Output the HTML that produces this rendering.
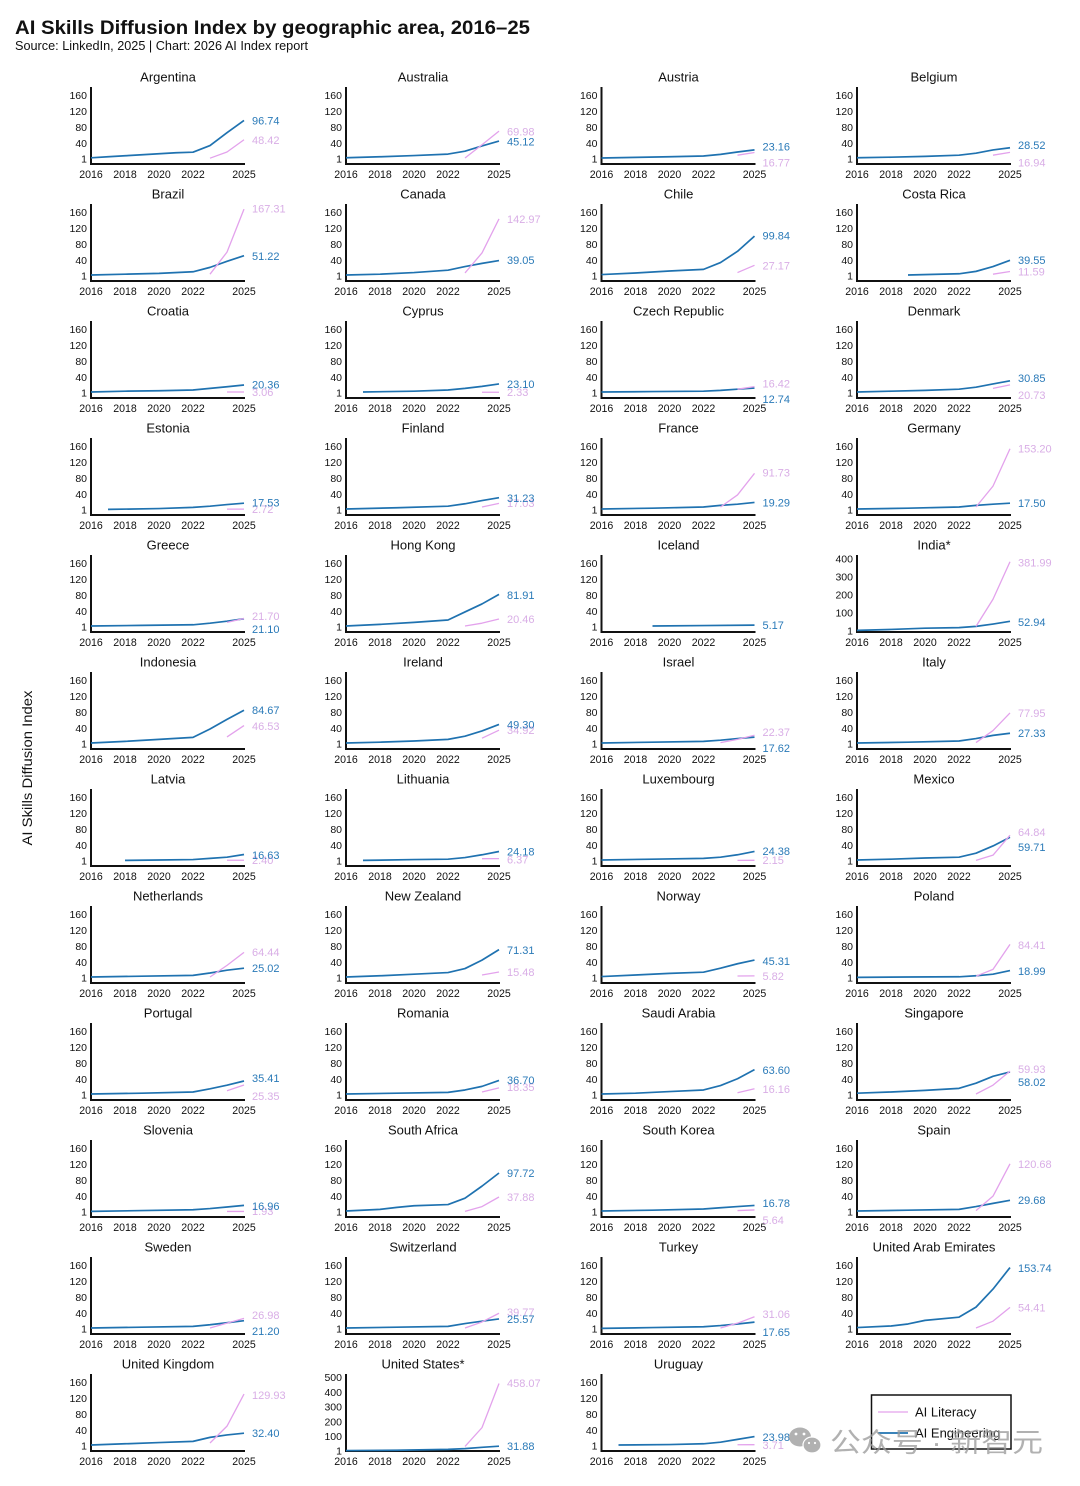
<!DOCTYPE html>
<html><head><meta charset="utf-8"><style>
html,body{margin:0;padding:0;background:#fff}
svg{display:block}
svg text{font-family:"Liberation Sans",sans-serif;fill:#111}
.t{font-size:13px;text-anchor:middle}
.yt{font-size:10.5px;text-anchor:end}
.xt{font-size:10.6px;text-anchor:middle}
.ax{fill:none;stroke:#111;stroke-width:2}
.b{fill:none;stroke:#1f72b0;stroke-width:1.7;vector-effect:non-scaling-stroke;stroke-linejoin:round}
.k{fill:none;stroke:#e3a2ec;stroke-width:1.3;vector-effect:non-scaling-stroke;stroke-linejoin:round}
svg text.vb{font-size:11px;fill:#2a7ab8}
svg text.vp{font-size:11px;fill:#d9aee6}
</style></head><body>
<svg width="1080" height="1486" viewBox="0 0 1080 1486" xmlns="http://www.w3.org/2000/svg">
<rect width="1080" height="1486" fill="#fff"/>
<text x="15" y="34" font-size="19.5" font-weight="bold" textLength="515" lengthAdjust="spacingAndGlyphs">AI Skills Diffusion Index by geographic area, 2016–25</text>
<text x="15" y="50" font-size="12.5" textLength="293" lengthAdjust="spacingAndGlyphs">Source: LinkedIn, 2025 | Chart: 2026 AI Index report</text>
<text transform="translate(32,768) rotate(-90)" font-size="13.5" text-anchor="middle" textLength="155" lengthAdjust="spacingAndGlyphs">AI Skills Diffusion Index</text>

<!-- Row 0 -->
<g transform="translate(91,77)"><text class="t" x="77" y="4.7">Argentina</text><path class="ax" d="M0,10V87H154"/><text class="yt"><tspan x="-4" y="21.8">160</tspan><tspan x="-4" y="37.9">120</tspan><tspan x="-4" y="53.9">80</tspan><tspan x="-4" y="70">40</tspan><tspan x="-4" y="85.6">1</tspan></text><text class="xt" y="101.2"><tspan x="0">2016</tspan><tspan x="34">2018</tspan><tspan x="68">2020</tspan><tspan x="102">2022</tspan><tspan x="153">2025</tspan></text><g transform="translate(0,82.19) scale(17,-0.401)"><polyline class="b" points="0,3.5 1,6 2,8.5 3,11 4,13.5 5,16 6,17.5 7,34 8,66 9,96.74"/><polyline class="k" points="7,2.5 8,18 9,48.42"/></g><text class="vp" x="161" y="67">48.42</text><text class="vb" x="161" y="47.7">96.74</text></g>

<g transform="translate(346,77)"><text class="t" x="77" y="4.7">Australia</text><path class="ax" d="M0,10V87H154"/><text class="yt"><tspan x="-4" y="21.8">160</tspan><tspan x="-4" y="37.9">120</tspan><tspan x="-4" y="53.9">80</tspan><tspan x="-4" y="70">40</tspan><tspan x="-4" y="85.6">1</tspan></text><text class="xt" y="101.2"><tspan x="0">2016</tspan><tspan x="34">2018</tspan><tspan x="68">2020</tspan><tspan x="102">2022</tspan><tspan x="153">2025</tspan></text><g transform="translate(0,82.19) scale(17,-0.401)"><polyline class="b" points="0,3.5 2,6 4,9 6,12.7 7,20 8,33 9,45.12"/><polyline class="k" points="7,3 8,36 9,69.98"/></g><text class="vp" x="161" y="58.5">69.98</text><text class="vb" x="161" y="68.5">45.12</text></g>

<g transform="translate(601.5,77)"><text class="t" x="77" y="4.7">Austria</text><path class="ax" d="M0,10V87H154"/><text class="yt"><tspan x="-4" y="21.8">160</tspan><tspan x="-4" y="37.9">120</tspan><tspan x="-4" y="53.9">80</tspan><tspan x="-4" y="70">40</tspan><tspan x="-4" y="85.6">1</tspan></text><text class="xt" y="101.2"><tspan x="0">2016</tspan><tspan x="34">2018</tspan><tspan x="68">2020</tspan><tspan x="102">2022</tspan><tspan x="153">2025</tspan></text><g transform="translate(0,82.19) scale(17,-0.401)"><polyline class="b" points="0,3 2,4.5 4,6 6,8 7,12 8,18 9,23.16"/><polyline class="k" points="8,10 9,16.77"/></g><text class="vp" x="161" y="89.5">16.77</text><text class="vb" x="161" y="73.7">23.16</text></g>

<g transform="translate(857,77)"><text class="t" x="77" y="4.7">Belgium</text><path class="ax" d="M0,10V87H154"/><text class="yt"><tspan x="-4" y="21.8">160</tspan><tspan x="-4" y="37.9">120</tspan><tspan x="-4" y="53.9">80</tspan><tspan x="-4" y="70">40</tspan><tspan x="-4" y="85.6">1</tspan></text><text class="xt" y="101.2"><tspan x="0">2016</tspan><tspan x="34">2018</tspan><tspan x="68">2020</tspan><tspan x="102">2022</tspan><tspan x="153">2025</tspan></text><g transform="translate(0,82.19) scale(17,-0.401)"><polyline class="b" points="0,3.5 2,5 4,7 6,10 7,15 8,23 9,28.52"/><polyline class="k" points="8,10 9,16.94"/></g><text class="vp" x="161" y="89.7">16.94</text><text class="vb" x="161" y="72">28.52</text></g>

<!-- Row 1 -->
<g transform="translate(91,194)"><text class="t" x="77" y="4.7">Brazil</text><path class="ax" d="M0,10V87H154"/><text class="yt"><tspan x="-4" y="21.8">160</tspan><tspan x="-4" y="37.9">120</tspan><tspan x="-4" y="53.9">80</tspan><tspan x="-4" y="70">40</tspan><tspan x="-4" y="85.6">1</tspan></text><text class="xt" y="101.2"><tspan x="0">2016</tspan><tspan x="34">2018</tspan><tspan x="68">2020</tspan><tspan x="102">2022</tspan><tspan x="153">2025</tspan></text><g transform="translate(0,82.19) scale(17,-0.401)"><polyline class="b" points="0,3 2,5 4,7 6,11 7,22 8,37 9,51.22"/><polyline class="k" points="7,5 8,60 9,167.31"/></g><text class="vp" x="161" y="18.5">167.31</text><text class="vb" x="161" y="66">51.22</text></g>

<g transform="translate(346,194)"><text class="t" x="77" y="4.7">Canada</text><path class="ax" d="M0,10V87H154"/><text class="yt"><tspan x="-4" y="21.8">160</tspan><tspan x="-4" y="37.9">120</tspan><tspan x="-4" y="53.9">80</tspan><tspan x="-4" y="70">40</tspan><tspan x="-4" y="85.6">1</tspan></text><text class="xt" y="101.2"><tspan x="0">2016</tspan><tspan x="34">2018</tspan><tspan x="68">2020</tspan><tspan x="102">2022</tspan><tspan x="153">2025</tspan></text><g transform="translate(0,82.19) scale(17,-0.401)"><polyline class="b" points="0,3 2,5 4,9 6,15 7,24 8,32 9,39.05"/><polyline class="k" points="7,8 8,58 9,142.97"/></g><text class="vp" x="161" y="29">142.97</text><text class="vb" x="161" y="70">39.05</text></g>

<g transform="translate(601.5,194)"><text class="t" x="77" y="4.7">Chile</text><path class="ax" d="M0,10V87H154"/><text class="yt"><tspan x="-4" y="21.8">160</tspan><tspan x="-4" y="37.9">120</tspan><tspan x="-4" y="53.9">80</tspan><tspan x="-4" y="70">40</tspan><tspan x="-4" y="85.6">1</tspan></text><text class="xt" y="101.2"><tspan x="0">2016</tspan><tspan x="34">2018</tspan><tspan x="68">2020</tspan><tspan x="102">2022</tspan><tspan x="153">2025</tspan></text><g transform="translate(0,82.19) scale(17,-0.401)"><polyline class="b" points="0,4 2,8 4,13 6,17 7,34 8,62 9,99.84"/><polyline class="k" points="8,9 9,27.17"/></g><text class="vp" x="161" y="75.7">27.17</text><text class="vb" x="161" y="45.7">99.84</text></g>

<g transform="translate(857,194)"><text class="t" x="77" y="4.7">Costa Rica</text><path class="ax" d="M0,10V87H154"/><text class="yt"><tspan x="-4" y="21.8">160</tspan><tspan x="-4" y="37.9">120</tspan><tspan x="-4" y="53.9">80</tspan><tspan x="-4" y="70">40</tspan><tspan x="-4" y="85.6">1</tspan></text><text class="xt" y="101.2"><tspan x="0">2016</tspan><tspan x="34">2018</tspan><tspan x="68">2020</tspan><tspan x="102">2022</tspan><tspan x="153">2025</tspan></text><g transform="translate(0,82.19) scale(17,-0.401)"><polyline class="b" points="3,3 6,6 7,12 8,24 9,39.55"/><polyline class="k" points="8,5 9,11.59"/></g><text class="vp" x="161" y="81.7">11.59</text><text class="vb" x="161" y="70">39.55</text></g>

<!-- Row 2 -->
<g transform="translate(91,311)"><text class="t" x="77" y="4.7">Croatia</text><path class="ax" d="M0,10V87H154"/><text class="yt"><tspan x="-4" y="21.8">160</tspan><tspan x="-4" y="37.9">120</tspan><tspan x="-4" y="53.9">80</tspan><tspan x="-4" y="70">40</tspan><tspan x="-4" y="85.6">1</tspan></text><text class="xt" y="101.2"><tspan x="0">2016</tspan><tspan x="34">2018</tspan><tspan x="68">2020</tspan><tspan x="102">2022</tspan><tspan x="153">2025</tspan></text><g transform="translate(0,82.19) scale(17,-0.401)"><polyline class="b" points="0,3 2,5 4,6 6,8 7,12 8,16 9,20.36"/><polyline class="k" points="8,3 9,3.06"/></g><text class="vp" x="161" y="85">3.06</text><text class="vb" x="161" y="77.5">20.36</text></g>

<g transform="translate(346,311)"><text class="t" x="77" y="4.7">Cyprus</text><path class="ax" d="M0,10V87H154"/><text class="yt"><tspan x="-4" y="21.8">160</tspan><tspan x="-4" y="37.9">120</tspan><tspan x="-4" y="53.9">80</tspan><tspan x="-4" y="70">40</tspan><tspan x="-4" y="85.6">1</tspan></text><text class="xt" y="101.2"><tspan x="0">2016</tspan><tspan x="34">2018</tspan><tspan x="68">2020</tspan><tspan x="102">2022</tspan><tspan x="153">2025</tspan></text><g transform="translate(0,82.19) scale(17,-0.401)"><polyline class="b" points="1,3 4,5 6,8 7,12 8,17 9,23.10"/><polyline class="k" points="8,2.3 9,2.33"/></g><text class="vp" x="161" y="85">2.33</text><text class="vb" x="161" y="77">23.10</text></g>

<g transform="translate(601.5,311)"><text class="t" x="77" y="4.7">Czech Republic</text><path class="ax" d="M0,10V87H154"/><text class="yt"><tspan x="-4" y="21.8">160</tspan><tspan x="-4" y="37.9">120</tspan><tspan x="-4" y="53.9">80</tspan><tspan x="-4" y="70">40</tspan><tspan x="-4" y="85.6">1</tspan></text><text class="xt" y="101.2"><tspan x="0">2016</tspan><tspan x="34">2018</tspan><tspan x="68">2020</tspan><tspan x="102">2022</tspan><tspan x="153">2025</tspan></text><g transform="translate(0,82.19) scale(17,-0.401)"><polyline class="b" points="0,3 3,4 6,5 7,7 8,10 9,12.74"/><polyline class="k" points="8,10 9,16.42"/></g><text class="vp" x="161" y="76.7">16.42</text><text class="vb" x="161" y="92">12.74</text></g>

<g transform="translate(857,311)"><text class="t" x="77" y="4.7">Denmark</text><path class="ax" d="M0,10V87H154"/><text class="yt"><tspan x="-4" y="21.8">160</tspan><tspan x="-4" y="37.9">120</tspan><tspan x="-4" y="53.9">80</tspan><tspan x="-4" y="70">40</tspan><tspan x="-4" y="85.6">1</tspan></text><text class="xt" y="101.2"><tspan x="0">2016</tspan><tspan x="34">2018</tspan><tspan x="68">2020</tspan><tspan x="102">2022</tspan><tspan x="153">2025</tspan></text><g transform="translate(0,82.19) scale(17,-0.401)"><polyline class="b" points="0,3 2,5 4,7 6,10 7,15 8,23 9,30.85"/><polyline class="k" points="8,12 9,20.73"/></g><text class="vp" x="161" y="88">20.73</text><text class="vb" x="161" y="71">30.85</text></g>

<!-- Row 3 -->
<g transform="translate(91,428)"><text class="t" x="77" y="4.7">Estonia</text><path class="ax" d="M0,10V87H154"/><text class="yt"><tspan x="-4" y="21.8">160</tspan><tspan x="-4" y="37.9">120</tspan><tspan x="-4" y="53.9">80</tspan><tspan x="-4" y="70">40</tspan><tspan x="-4" y="85.6">1</tspan></text><text class="xt" y="101.2"><tspan x="0">2016</tspan><tspan x="34">2018</tspan><tspan x="68">2020</tspan><tspan x="102">2022</tspan><tspan x="153">2025</tspan></text><g transform="translate(0,82.19) scale(17,-0.401)"><polyline class="b" points="1,2 4,4 6,7 7,10 8,14 9,17.53"/><polyline class="k" points="8,2.7 9,2.72"/></g><text class="vp" x="161" y="85">2.72</text><text class="vb" x="161" y="78.7">17.53</text></g>

<g transform="translate(346,428)"><text class="t" x="77" y="4.7">Finland</text><path class="ax" d="M0,10V87H154"/><text class="yt"><tspan x="-4" y="21.8">160</tspan><tspan x="-4" y="37.9">120</tspan><tspan x="-4" y="53.9">80</tspan><tspan x="-4" y="70">40</tspan><tspan x="-4" y="85.6">1</tspan></text><text class="xt" y="101.2"><tspan x="0">2016</tspan><tspan x="34">2018</tspan><tspan x="68">2020</tspan><tspan x="102">2022</tspan><tspan x="153">2025</tspan></text><g transform="translate(0,82.19) scale(17,-0.401)"><polyline class="b" points="0,3 3,6 6,10 7,16 8,24 9,31.23"/><polyline class="k" points="8,8 9,17.03"/></g><text class="vp" x="161" y="79">17.03</text><text class="vb" x="161" y="74">31.23</text></g>

<g transform="translate(601.5,428)"><text class="t" x="77" y="4.7">France</text><path class="ax" d="M0,10V87H154"/><text class="yt"><tspan x="-4" y="21.8">160</tspan><tspan x="-4" y="37.9">120</tspan><tspan x="-4" y="53.9">80</tspan><tspan x="-4" y="70">40</tspan><tspan x="-4" y="85.6">1</tspan></text><text class="xt" y="101.2"><tspan x="0">2016</tspan><tspan x="34">2018</tspan><tspan x="68">2020</tspan><tspan x="102">2022</tspan><tspan x="153">2025</tspan></text><g transform="translate(0,82.19) scale(17,-0.401)"><polyline class="b" points="0,3 3,5 6,8 7,12 8,15 9,19.29"/><polyline class="k" points="7,8 8,38 9,91.73"/></g><text class="vp" x="161" y="48.7">91.73</text><text class="vb" x="161" y="78.3">19.29</text></g>

<g transform="translate(857,428)"><text class="t" x="77" y="4.7">Germany</text><path class="ax" d="M0,10V87H154"/><text class="yt"><tspan x="-4" y="21.8">160</tspan><tspan x="-4" y="37.9">120</tspan><tspan x="-4" y="53.9">80</tspan><tspan x="-4" y="70">40</tspan><tspan x="-4" y="85.6">1</tspan></text><text class="xt" y="101.2"><tspan x="0">2016</tspan><tspan x="34">2018</tspan><tspan x="68">2020</tspan><tspan x="102">2022</tspan><tspan x="153">2025</tspan></text><g transform="translate(0,82.19) scale(17,-0.401)"><polyline class="b" points="0,3 3,5 6,8 7,12 8,15 9,17.50"/><polyline class="k" points="7,8 8,60 9,153.20"/></g><text class="vp" x="161" y="24.7">153.20</text><text class="vb" x="161" y="79">17.50</text></g>

<!-- Row 4 -->
<g transform="translate(91,545)"><text class="t" x="77" y="4.7">Greece</text><path class="ax" d="M0,10V87H154"/><text class="yt"><tspan x="-4" y="21.8">160</tspan><tspan x="-4" y="37.9">120</tspan><tspan x="-4" y="53.9">80</tspan><tspan x="-4" y="70">40</tspan><tspan x="-4" y="85.6">1</tspan></text><text class="xt" y="101.2"><tspan x="0">2016</tspan><tspan x="34">2018</tspan><tspan x="68">2020</tspan><tspan x="102">2022</tspan><tspan x="153">2025</tspan></text><g transform="translate(0,82.19) scale(17,-0.401)"><polyline class="b" points="0,3 3,4.5 6,6 7,10 8,15 9,21.10"/><polyline class="k" points="8,12 9,21.70"/></g><text class="vp" x="161" y="75">21.70</text><text class="vb" x="161" y="88">21.10</text></g>

<g transform="translate(346,545)"><text class="t" x="77" y="4.7">Hong Kong</text><path class="ax" d="M0,10V87H154"/><text class="yt"><tspan x="-4" y="21.8">160</tspan><tspan x="-4" y="37.9">120</tspan><tspan x="-4" y="53.9">80</tspan><tspan x="-4" y="70">40</tspan><tspan x="-4" y="85.6">1</tspan></text><text class="xt" y="101.2"><tspan x="0">2016</tspan><tspan x="34">2018</tspan><tspan x="68">2020</tspan><tspan x="102">2022</tspan><tspan x="153">2025</tspan></text><g transform="translate(0,82.19) scale(17,-0.401)"><polyline class="b" points="0,3 2,7 4,12 6,18 7,38 8,58 9,81.91"/><polyline class="k" points="7,3 8,10 9,20.46"/></g><text class="vp" x="161" y="78">20.46</text><text class="vb" x="161" y="54">81.91</text></g>

<g transform="translate(601.5,545)"><text class="t" x="77" y="4.7">Iceland</text><path class="ax" d="M0,10V87H154"/><text class="yt"><tspan x="-4" y="21.8">160</tspan><tspan x="-4" y="37.9">120</tspan><tspan x="-4" y="53.9">80</tspan><tspan x="-4" y="70">40</tspan><tspan x="-4" y="85.6">1</tspan></text><text class="xt" y="101.2"><tspan x="0">2016</tspan><tspan x="34">2018</tspan><tspan x="68">2020</tspan><tspan x="102">2022</tspan><tspan x="153">2025</tspan></text><g transform="translate(0,82.19) scale(17,-0.401)"><polyline class="b" points="3,3 6,4 9,5.17"/></g><text class="vb" x="161" y="84">5.17</text></g>

<g transform="translate(857,545)"><text class="t" x="77" y="4.7">India*</text><path class="ax" d="M0,10V87H154"/><text class="yt"><tspan x="-4" y="17.3">400</tspan><tspan x="-4" y="35.4">300</tspan><tspan x="-4" y="53.5">200</tspan><tspan x="-4" y="71.6">100</tspan><tspan x="-4" y="89.5">1</tspan></text><text class="xt" y="101.2"><tspan x="0">2016</tspan><tspan x="34">2018</tspan><tspan x="68">2020</tspan><tspan x="102">2022</tspan><tspan x="153">2025</tspan></text><g transform="translate(0,85.91) scale(17,-0.181)"><polyline class="b" points="0,3 2,8 4,15 6,18 7,25 8,38 9,52.94"/><polyline class="k" points="7,25 8,175 9,381.99"/></g><text class="vp" x="161" y="21.7">381.99</text><text class="vb" x="161" y="81">52.94</text></g>

<!-- Row 5 -->
<g transform="translate(91,662)"><text class="t" x="77" y="4.7">Indonesia</text><path class="ax" d="M0,10V87H154"/><text class="yt"><tspan x="-4" y="21.8">160</tspan><tspan x="-4" y="37.9">120</tspan><tspan x="-4" y="53.9">80</tspan><tspan x="-4" y="70">40</tspan><tspan x="-4" y="85.6">1</tspan></text><text class="xt" y="101.2"><tspan x="0">2016</tspan><tspan x="34">2018</tspan><tspan x="68">2020</tspan><tspan x="102">2022</tspan><tspan x="153">2025</tspan></text><g transform="translate(0,82.19) scale(17,-0.401)"><polyline class="b" points="0,3 2,7 4,12 6,17 7,38 8,62 9,84.67"/><polyline class="k" points="8,18 9,46.53"/></g><text class="vp" x="161" y="68">46.53</text><text class="vb" x="161" y="52">84.67</text></g>

<g transform="translate(346,662)"><text class="t" x="77" y="4.7">Ireland</text><path class="ax" d="M0,10V87H154"/><text class="yt"><tspan x="-4" y="21.8">160</tspan><tspan x="-4" y="37.9">120</tspan><tspan x="-4" y="53.9">80</tspan><tspan x="-4" y="70">40</tspan><tspan x="-4" y="85.6">1</tspan></text><text class="xt" y="101.2"><tspan x="0">2016</tspan><tspan x="34">2018</tspan><tspan x="68">2020</tspan><tspan x="102">2022</tspan><tspan x="153">2025</tspan></text><g transform="translate(0,82.19) scale(17,-0.401)"><polyline class="b" points="0,3 2,5 4,8 6,12 7,20 8,33 9,49.30"/><polyline class="k" points="8,15 9,34.92"/></g><text class="vp" x="161" y="72">34.92</text><text class="vb" x="161" y="66.7">49.30</text></g>

<g transform="translate(601.5,662)"><text class="t" x="77" y="4.7">Israel</text><path class="ax" d="M0,10V87H154"/><text class="yt"><tspan x="-4" y="21.8">160</tspan><tspan x="-4" y="37.9">120</tspan><tspan x="-4" y="53.9">80</tspan><tspan x="-4" y="70">40</tspan><tspan x="-4" y="85.6">1</tspan></text><text class="xt" y="101.2"><tspan x="0">2016</tspan><tspan x="34">2018</tspan><tspan x="68">2020</tspan><tspan x="102">2022</tspan><tspan x="153">2025</tspan></text><g transform="translate(0,82.19) scale(17,-0.401)"><polyline class="b" points="0,3 3,5 6,7 7,10 8,14 9,17.62"/><polyline class="k" points="7,4 8,12 9,22.37"/></g><text class="vp" x="161" y="74">22.37</text><text class="vb" x="161" y="90">17.62</text></g>

<g transform="translate(857,662)"><text class="t" x="77" y="4.7">Italy</text><path class="ax" d="M0,10V87H154"/><text class="yt"><tspan x="-4" y="21.8">160</tspan><tspan x="-4" y="37.9">120</tspan><tspan x="-4" y="53.9">80</tspan><tspan x="-4" y="70">40</tspan><tspan x="-4" y="85.6">1</tspan></text><text class="xt" y="101.2"><tspan x="0">2016</tspan><tspan x="34">2018</tspan><tspan x="68">2020</tspan><tspan x="102">2022</tspan><tspan x="153">2025</tspan></text><g transform="translate(0,82.19) scale(17,-0.401)"><polyline class="b" points="0,3 3,5 6,8 7,14 8,22 9,27.33"/><polyline class="k" points="7,4 8,34 9,77.95"/></g><text class="vp" x="161" y="55">77.95</text><text class="vb" x="161" y="75">27.33</text></g>

<!-- Row 6 -->
<g transform="translate(91,779)"><text class="t" x="77" y="4.7">Latvia</text><path class="ax" d="M0,10V87H154"/><text class="yt"><tspan x="-4" y="21.8">160</tspan><tspan x="-4" y="37.9">120</tspan><tspan x="-4" y="53.9">80</tspan><tspan x="-4" y="70">40</tspan><tspan x="-4" y="85.6">1</tspan></text><text class="xt" y="101.2"><tspan x="0">2016</tspan><tspan x="34">2018</tspan><tspan x="68">2020</tspan><tspan x="102">2022</tspan><tspan x="153">2025</tspan></text><g transform="translate(0,82.19) scale(17,-0.401)"><polyline class="b" points="2,2 4,3 6,4 7,7 8,10 9,16.63"/><polyline class="k" points="8,2.4 9,2.40"/></g><text class="vp" x="161" y="85">2.40</text><text class="vb" x="161" y="80">16.63</text></g>

<g transform="translate(346,779)"><text class="t" x="77" y="4.7">Lithuania</text><path class="ax" d="M0,10V87H154"/><text class="yt"><tspan x="-4" y="21.8">160</tspan><tspan x="-4" y="37.9">120</tspan><tspan x="-4" y="53.9">80</tspan><tspan x="-4" y="70">40</tspan><tspan x="-4" y="85.6">1</tspan></text><text class="xt" y="101.2"><tspan x="0">2016</tspan><tspan x="34">2018</tspan><tspan x="68">2020</tspan><tspan x="102">2022</tspan><tspan x="153">2025</tspan></text><g transform="translate(0,82.19) scale(17,-0.401)"><polyline class="b" points="1,2 4,4 6,5 7,9 8,16 9,24.18"/><polyline class="k" points="8,6.3 9,6.37"/></g><text class="vp" x="161" y="84.7">6.37</text><text class="vb" x="161" y="76.7">24.18</text></g>

<g transform="translate(601.5,779)"><text class="t" x="77" y="4.7">Luxembourg</text><path class="ax" d="M0,10V87H154"/><text class="yt"><tspan x="-4" y="21.8">160</tspan><tspan x="-4" y="37.9">120</tspan><tspan x="-4" y="53.9">80</tspan><tspan x="-4" y="70">40</tspan><tspan x="-4" y="85.6">1</tspan></text><text class="xt" y="101.2"><tspan x="0">2016</tspan><tspan x="34">2018</tspan><tspan x="68">2020</tspan><tspan x="102">2022</tspan><tspan x="153">2025</tspan></text><g transform="translate(0,82.19) scale(17,-0.401)"><polyline class="b" points="0,3 3,5 6,7 7,10 8,16 9,24.38"/><polyline class="k" points="8,2.1 9,2.15"/></g><text class="vp" x="161" y="85">2.15</text><text class="vb" x="161" y="76">24.38</text></g>

<g transform="translate(857,779)"><text class="t" x="77" y="4.7">Mexico</text><path class="ax" d="M0,10V87H154"/><text class="yt"><tspan x="-4" y="21.8">160</tspan><tspan x="-4" y="37.9">120</tspan><tspan x="-4" y="53.9">80</tspan><tspan x="-4" y="70">40</tspan><tspan x="-4" y="85.6">1</tspan></text><text class="xt" y="101.2"><tspan x="0">2016</tspan><tspan x="34">2018</tspan><tspan x="68">2020</tspan><tspan x="102">2022</tspan><tspan x="153">2025</tspan></text><g transform="translate(0,82.19) scale(17,-0.401)"><polyline class="b" points="0,3 2,5 4,8 6,10 7,20 8,38 9,59.71"/><polyline class="k" points="7,2 8,15 9,64.84"/></g><text class="vp" x="161" y="57">64.84</text><text class="vb" x="161" y="72">59.71</text></g>

<!-- Row 7 -->
<g transform="translate(91,896)"><text class="t" x="77" y="4.7">Netherlands</text><path class="ax" d="M0,10V87H154"/><text class="yt"><tspan x="-4" y="21.8">160</tspan><tspan x="-4" y="37.9">120</tspan><tspan x="-4" y="53.9">80</tspan><tspan x="-4" y="70">40</tspan><tspan x="-4" y="85.6">1</tspan></text><text class="xt" y="101.2"><tspan x="0">2016</tspan><tspan x="34">2018</tspan><tspan x="68">2020</tspan><tspan x="102">2022</tspan><tspan x="153">2025</tspan></text><g transform="translate(0,82.19) scale(17,-0.401)"><polyline class="b" points="0,3 3,5 6,7 7,13 8,20 9,25.02"/><polyline class="k" points="7,3 8,32 9,64.44"/></g><text class="vp" x="161" y="60">64.44</text><text class="vb" x="161" y="76">25.02</text></g>

<g transform="translate(346,896)"><text class="t" x="77" y="4.7">New Zealand</text><path class="ax" d="M0,10V87H154"/><text class="yt"><tspan x="-4" y="21.8">160</tspan><tspan x="-4" y="37.9">120</tspan><tspan x="-4" y="53.9">80</tspan><tspan x="-4" y="70">40</tspan><tspan x="-4" y="85.6">1</tspan></text><text class="xt" y="101.2"><tspan x="0">2016</tspan><tspan x="34">2018</tspan><tspan x="68">2020</tspan><tspan x="102">2022</tspan><tspan x="153">2025</tspan></text><g transform="translate(0,82.19) scale(17,-0.401)"><polyline class="b" points="0,3 2,6 4,10 6,14 7,24 8,45 9,71.31"/><polyline class="k" points="8,8 9,15.48"/></g><text class="vp" x="161" y="80">15.48</text><text class="vb" x="161" y="58">71.31</text></g>

<g transform="translate(601.5,896)"><text class="t" x="77" y="4.7">Norway</text><path class="ax" d="M0,10V87H154"/><text class="yt"><tspan x="-4" y="21.8">160</tspan><tspan x="-4" y="37.9">120</tspan><tspan x="-4" y="53.9">80</tspan><tspan x="-4" y="70">40</tspan><tspan x="-4" y="85.6">1</tspan></text><text class="xt" y="101.2"><tspan x="0">2016</tspan><tspan x="34">2018</tspan><tspan x="68">2020</tspan><tspan x="102">2022</tspan><tspan x="153">2025</tspan></text><g transform="translate(0,82.19) scale(17,-0.401)"><polyline class="b" points="0,4 2,8 4,12 6,15 7,25 8,36 9,45.31"/><polyline class="k" points="8,5.5 9,5.82"/></g><text class="vp" x="161" y="84">5.82</text><text class="vb" x="161" y="69">45.31</text></g>

<g transform="translate(857,896)"><text class="t" x="77" y="4.7">Poland</text><path class="ax" d="M0,10V87H154"/><text class="yt"><tspan x="-4" y="21.8">160</tspan><tspan x="-4" y="37.9">120</tspan><tspan x="-4" y="53.9">80</tspan><tspan x="-4" y="70">40</tspan><tspan x="-4" y="85.6">1</tspan></text><text class="xt" y="101.2"><tspan x="0">2016</tspan><tspan x="34">2018</tspan><tspan x="68">2020</tspan><tspan x="102">2022</tspan><tspan x="153">2025</tspan></text><g transform="translate(0,82.19) scale(17,-0.401)"><polyline class="b" points="0,2 3,3 6,3.5 7,6 8,10 9,18.99"/><polyline class="k" points="7,5 8,22 9,84.41"/></g><text class="vp" x="161" y="53">84.41</text><text class="vb" x="161" y="79">18.99</text></g>

<!-- Row 8 -->
<g transform="translate(91,1013)"><text class="t" x="77" y="4.7">Portugal</text><path class="ax" d="M0,10V87H154"/><text class="yt"><tspan x="-4" y="21.8">160</tspan><tspan x="-4" y="37.9">120</tspan><tspan x="-4" y="53.9">80</tspan><tspan x="-4" y="70">40</tspan><tspan x="-4" y="85.6">1</tspan></text><text class="xt" y="101.2"><tspan x="0">2016</tspan><tspan x="34">2018</tspan><tspan x="68">2020</tspan><tspan x="102">2022</tspan><tspan x="153">2025</tspan></text><g transform="translate(0,82.19) scale(17,-0.401)"><polyline class="b" points="0,3 3,5 6,8 7,16 8,25 9,35.41"/><polyline class="k" points="8,11 9,25.35"/></g><text class="vp" x="161" y="87">25.35</text><text class="vb" x="161" y="69">35.41</text></g>

<g transform="translate(346,1013)"><text class="t" x="77" y="4.7">Romania</text><path class="ax" d="M0,10V87H154"/><text class="yt"><tspan x="-4" y="21.8">160</tspan><tspan x="-4" y="37.9">120</tspan><tspan x="-4" y="53.9">80</tspan><tspan x="-4" y="70">40</tspan><tspan x="-4" y="85.6">1</tspan></text><text class="xt" y="101.2"><tspan x="0">2016</tspan><tspan x="34">2018</tspan><tspan x="68">2020</tspan><tspan x="102">2022</tspan><tspan x="153">2025</tspan></text><g transform="translate(0,82.19) scale(17,-0.401)"><polyline class="b" points="0,3 3,5 6,7 7,13 8,22 9,36.70"/><polyline class="k" points="8,8 9,18.35"/></g><text class="vp" x="161" y="78">18.35</text><text class="vb" x="161" y="71">36.70</text></g>

<g transform="translate(601.5,1013)"><text class="t" x="77" y="4.7">Saudi Arabia</text><path class="ax" d="M0,10V87H154"/><text class="yt"><tspan x="-4" y="21.8">160</tspan><tspan x="-4" y="37.9">120</tspan><tspan x="-4" y="53.9">80</tspan><tspan x="-4" y="70">40</tspan><tspan x="-4" y="85.6">1</tspan></text><text class="xt" y="101.2"><tspan x="0">2016</tspan><tspan x="34">2018</tspan><tspan x="68">2020</tspan><tspan x="102">2022</tspan><tspan x="153">2025</tspan></text><g transform="translate(0,82.19) scale(17,-0.401)"><polyline class="b" points="0,3 2,5 4,9 6,13 7,24 8,41 9,63.60"/><polyline class="k" points="8,6 9,16.16"/></g><text class="vp" x="161" y="80">16.16</text><text class="vb" x="161" y="61">63.60</text></g>

<g transform="translate(857,1013)"><text class="t" x="77" y="4.7">Singapore</text><path class="ax" d="M0,10V87H154"/><text class="yt"><tspan x="-4" y="21.8">160</tspan><tspan x="-4" y="37.9">120</tspan><tspan x="-4" y="53.9">80</tspan><tspan x="-4" y="70">40</tspan><tspan x="-4" y="85.6">1</tspan></text><text class="xt" y="101.2"><tspan x="0">2016</tspan><tspan x="34">2018</tspan><tspan x="68">2020</tspan><tspan x="102">2022</tspan><tspan x="153">2025</tspan></text><g transform="translate(0,82.19) scale(17,-0.401)"><polyline class="b" points="0,5 2,8 4,12 6,17 7,30 8,47 9,58.02"/><polyline class="k" points="7,3 8,25 9,59.93"/></g><text class="vp" x="161" y="60">59.93</text><text class="vb" x="161" y="73">58.02</text></g>

<!-- Row 9 -->
<g transform="translate(91,1130)"><text class="t" x="77" y="4.7">Slovenia</text><path class="ax" d="M0,10V87H154"/><text class="yt"><tspan x="-4" y="21.8">160</tspan><tspan x="-4" y="37.9">120</tspan><tspan x="-4" y="53.9">80</tspan><tspan x="-4" y="70">40</tspan><tspan x="-4" y="85.6">1</tspan></text><text class="xt" y="101.2"><tspan x="0">2016</tspan><tspan x="34">2018</tspan><tspan x="68">2020</tspan><tspan x="102">2022</tspan><tspan x="153">2025</tspan></text><g transform="translate(0,82.19) scale(17,-0.401)"><polyline class="b" points="0,2 3,4 6,6 7,9 8,13 9,16.96"/><polyline class="k" points="8,1.9 9,1.93"/></g><text class="vp" x="161" y="85">1.93</text><text class="vb" x="161" y="80">16.96</text></g>

<g transform="translate(346,1130)"><text class="t" x="77" y="4.7">South Africa</text><path class="ax" d="M0,10V87H154"/><text class="yt"><tspan x="-4" y="21.8">160</tspan><tspan x="-4" y="37.9">120</tspan><tspan x="-4" y="53.9">80</tspan><tspan x="-4" y="70">40</tspan><tspan x="-4" y="85.6">1</tspan></text><text class="xt" y="101.2"><tspan x="0">2016</tspan><tspan x="34">2018</tspan><tspan x="68">2020</tspan><tspan x="102">2022</tspan><tspan x="153">2025</tspan></text><g transform="translate(0,82.19) scale(17,-0.401)"><polyline class="b" points="0,3 2,7 3,12 4,16 6,19 7,35 8,65 9,97.72"/><polyline class="k" points="7,2 8,14 9,37.88"/></g><text class="vp" x="161" y="71">37.88</text><text class="vb" x="161" y="47">97.72</text></g>

<g transform="translate(601.5,1130)"><text class="t" x="77" y="4.7">South Korea</text><path class="ax" d="M0,10V87H154"/><text class="yt"><tspan x="-4" y="21.8">160</tspan><tspan x="-4" y="37.9">120</tspan><tspan x="-4" y="53.9">80</tspan><tspan x="-4" y="70">40</tspan><tspan x="-4" y="85.6">1</tspan></text><text class="xt" y="101.2"><tspan x="0">2016</tspan><tspan x="34">2018</tspan><tspan x="68">2020</tspan><tspan x="102">2022</tspan><tspan x="153">2025</tspan></text><g transform="translate(0,82.19) scale(17,-0.401)"><polyline class="b" points="0,3 3,5 6,8 7,11 8,14 9,16.78"/><polyline class="k" points="8,4 9,5.64"/></g><text class="vp" x="161" y="94">5.64</text><text class="vb" x="161" y="77">16.78</text></g>

<g transform="translate(857,1130)"><text class="t" x="77" y="4.7">Spain</text><path class="ax" d="M0,10V87H154"/><text class="yt"><tspan x="-4" y="21.8">160</tspan><tspan x="-4" y="37.9">120</tspan><tspan x="-4" y="53.9">80</tspan><tspan x="-4" y="70">40</tspan><tspan x="-4" y="85.6">1</tspan></text><text class="xt" y="101.2"><tspan x="0">2016</tspan><tspan x="34">2018</tspan><tspan x="68">2020</tspan><tspan x="102">2022</tspan><tspan x="153">2025</tspan></text><g transform="translate(0,82.19) scale(17,-0.401)"><polyline class="b" points="0,3 3,5 6,7 7,14 8,22 9,29.68"/><polyline class="k" points="7,4 8,40 9,120.68"/></g><text class="vp" x="161" y="38">120.68</text><text class="vb" x="161" y="74">29.68</text></g>

<!-- Row 10 -->
<g transform="translate(91,1247)"><text class="t" x="77" y="4.7">Sweden</text><path class="ax" d="M0,10V87H154"/><text class="yt"><tspan x="-4" y="21.8">160</tspan><tspan x="-4" y="37.9">120</tspan><tspan x="-4" y="53.9">80</tspan><tspan x="-4" y="70">40</tspan><tspan x="-4" y="85.6">1</tspan></text><text class="xt" y="101.2"><tspan x="0">2016</tspan><tspan x="34">2018</tspan><tspan x="68">2020</tspan><tspan x="102">2022</tspan><tspan x="153">2025</tspan></text><g transform="translate(0,82.19) scale(17,-0.401)"><polyline class="b" points="0,3 3,5 6,7 7,11 8,16 9,21.20"/><polyline class="k" points="7,3 8,15 9,26.98"/></g><text class="vp" x="161" y="72">26.98</text><text class="vb" x="161" y="88">21.20</text></g>

<g transform="translate(346,1247)"><text class="t" x="77" y="4.7">Switzerland</text><path class="ax" d="M0,10V87H154"/><text class="yt"><tspan x="-4" y="21.8">160</tspan><tspan x="-4" y="37.9">120</tspan><tspan x="-4" y="53.9">80</tspan><tspan x="-4" y="70">40</tspan><tspan x="-4" y="85.6">1</tspan></text><text class="xt" y="101.2"><tspan x="0">2016</tspan><tspan x="34">2018</tspan><tspan x="68">2020</tspan><tspan x="102">2022</tspan><tspan x="153">2025</tspan></text><g transform="translate(0,82.19) scale(17,-0.401)"><polyline class="b" points="0,3 3,5 6,7 7,14 8,20 9,25.57"/><polyline class="k" points="7,3 8,18 9,39.77"/></g><text class="vp" x="161" y="69">39.77</text><text class="vb" x="161" y="76">25.57</text></g>

<g transform="translate(601.5,1247)"><text class="t" x="77" y="4.7">Turkey</text><path class="ax" d="M0,10V87H154"/><text class="yt"><tspan x="-4" y="21.8">160</tspan><tspan x="-4" y="37.9">120</tspan><tspan x="-4" y="53.9">80</tspan><tspan x="-4" y="70">40</tspan><tspan x="-4" y="85.6">1</tspan></text><text class="xt" y="101.2"><tspan x="0">2016</tspan><tspan x="34">2018</tspan><tspan x="68">2020</tspan><tspan x="102">2022</tspan><tspan x="153">2025</tspan></text><g transform="translate(0,82.19) scale(17,-0.401)"><polyline class="b" points="0,2 3,4 6,6 7,9 8,13 9,17.65"/><polyline class="k" points="7,3 8,15 9,31.06"/></g><text class="vp" x="161" y="71">31.06</text><text class="vb" x="161" y="89">17.65</text></g>

<g transform="translate(857,1247)"><text class="t" x="77" y="4.7">United Arab Emirates</text><path class="ax" d="M0,10V87H154"/><text class="yt"><tspan x="-4" y="21.8">160</tspan><tspan x="-4" y="37.9">120</tspan><tspan x="-4" y="53.9">80</tspan><tspan x="-4" y="70">40</tspan><tspan x="-4" y="85.6">1</tspan></text><text class="xt" y="101.2"><tspan x="0">2016</tspan><tspan x="34">2018</tspan><tspan x="68">2020</tspan><tspan x="102">2022</tspan><tspan x="153">2025</tspan></text><g transform="translate(0,82.19) scale(17,-0.401)"><polyline class="b" points="0,4 2,8 3,13 4,22 6,30 7,55 8,100 9,153.74"/><polyline class="k" points="7,3 8,20 9,54.41"/></g><text class="vp" x="161" y="64.7">54.41</text><text class="vb" x="161" y="25">153.74</text></g>

<!-- Row 11 -->
<g transform="translate(91,1364)"><text class="t" x="77" y="4.7">United Kingdom</text><path class="ax" d="M0,10V87H154"/><text class="yt"><tspan x="-4" y="21.8">160</tspan><tspan x="-4" y="37.9">120</tspan><tspan x="-4" y="53.9">80</tspan><tspan x="-4" y="70">40</tspan><tspan x="-4" y="85.6">1</tspan></text><text class="xt" y="101.2"><tspan x="0">2016</tspan><tspan x="34">2018</tspan><tspan x="68">2020</tspan><tspan x="102">2022</tspan><tspan x="153">2025</tspan></text><g transform="translate(0,82.19) scale(17,-0.401)"><polyline class="b" points="0,3 2,6 4,9 6,12 7,22 8,28 9,32.40"/><polyline class="k" points="7,8 8,50 9,129.93"/></g><text class="vp" x="161" y="35">129.93</text><text class="vb" x="161" y="73">32.40</text></g>

<g transform="translate(346,1364)"><text class="t" x="77" y="4.7">United States*</text><path class="ax" d="M0,10V87H154"/><text class="yt"><tspan x="-4" y="17.2">500</tspan><tspan x="-4" y="31.9">400</tspan><tspan x="-4" y="46.6">300</tspan><tspan x="-4" y="61.3">200</tspan><tspan x="-4" y="75.9">100</tspan><tspan x="-4" y="90.5">1</tspan></text><text class="xt" y="101.2"><tspan x="0">2016</tspan><tspan x="34">2018</tspan><tspan x="68">2020</tspan><tspan x="102">2022</tspan><tspan x="153">2025</tspan></text><g transform="translate(0,86.85) scale(17,-0.147)"><polyline class="b" points="0,2 3,4 6,10 7,15 8,24 9,31.88"/><polyline class="k" points="7,30 8,158 9,458.07"/></g><text class="vp" x="161" y="23">458.07</text><text class="vb" x="161" y="86">31.88</text></g>

<g transform="translate(601.5,1364)"><text class="t" x="77" y="4.7">Uruguay</text><path class="ax" d="M0,10V87H154"/><text class="yt"><tspan x="-4" y="21.8">160</tspan><tspan x="-4" y="37.9">120</tspan><tspan x="-4" y="53.9">80</tspan><tspan x="-4" y="70">40</tspan><tspan x="-4" y="85.6">1</tspan></text><text class="xt" y="101.2"><tspan x="0">2016</tspan><tspan x="34">2018</tspan><tspan x="68">2020</tspan><tspan x="102">2022</tspan><tspan x="153">2025</tspan></text><g transform="translate(0,82.19) scale(17,-0.401)"><polyline class="b" points="1,3 4,4 6,6 7,10 8,17 9,23.98"/><polyline class="k" points="8,3.5 9,3.71"/></g><text class="vp" x="161" y="85">3.71</text><text class="vb" x="161" y="77">23.98</text></g>

<!-- Legend -->
<rect x="871.5" y="1395" width="139.5" height="54" fill="#fff" stroke="#111" stroke-width="1.5"/>
<line x1="878" y1="1412" x2="908" y2="1412" stroke="#e3a2ec" stroke-width="1.3"/>
<text x="915" y="1416.6" font-size="13">AI Literacy</text>
<line x1="878" y1="1433" x2="908" y2="1433" stroke="#1f72b0" stroke-width="1.7"/>
<text x="915" y="1437.6" font-size="13">AI Engineering</text>

<!-- Watermark -->
<g opacity="0.78">
<ellipse cx="800" cy="1437" rx="11" ry="9.5" fill="#9c9c9c"/>
<ellipse cx="812" cy="1445" rx="9" ry="8" fill="#9c9c9c" stroke="#fff" stroke-width="1.2"/>
<circle cx="796" cy="1434" r="1.4" fill="#fff"/><circle cx="804" cy="1434" r="1.4" fill="#fff"/>
<circle cx="809" cy="1443" r="1.1" fill="#fff"/><circle cx="815" cy="1443" r="1.1" fill="#fff"/>
<text x="830" y="1452" font-size="27" textLength="213" lengthAdjust="spacingAndGlyphs" style="font-family:'Liberation Sans','Noto Sans CJK SC',sans-serif;fill:#9c9c9c">公众号 · 新智元</text>
</g>
</svg>
</body></html>
